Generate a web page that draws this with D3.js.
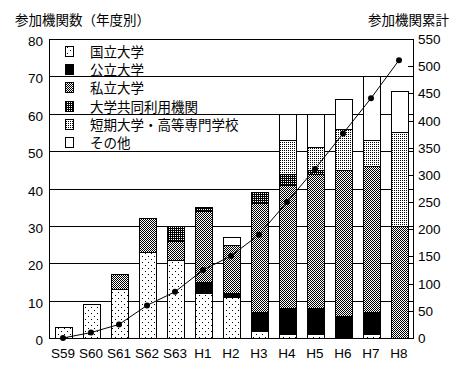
<!DOCTYPE html>
<html>
<head>
<meta charset="utf-8">
<script src="https://cdn.jsdelivr.net/npm/d3@7"></script>
<style>
  body { margin: 0; background: #fff; }
  text { font-family: "Liberation Sans", Arial, sans-serif; font-size: 13.5px; fill: #000; }
  .jp { font-family: "Noto Sans CJK JP", sans-serif; font-size: 13.5px; }
</style>
</head>
<body>
<div id="chart"></div>
<script>
var years = ["S59", "S60", "S61", "S62", "S63", "H1", "H2", "H3", "H4", "H5", "H6", "H7", "H8"];
var seriesNames = ["国立大学", "公立大学", "私立大学", "大学共同利用機関", "短期大学・高等専門学校", "その他"];
var national = [3, 9, 13, 23, 21, 12, 11, 2, 1, 1, 0, 1, 0];
var publicU = [0, 0, 0, 0, 0, 3, 1, 5, 7, 7, 6, 6, 0];
var privateU = [0, 0, 4, 9, 5, 19, 13, 29, 33, 36, 39, 39, 30];
var interUniv = [0, 0, 0, 0, 4, 1, 0, 3, 3, 1, 0, 0, 0];
var junior = [0, 0, 0, 0, 0, 0, 0, 0, 9, 6, 11, 7, 25];
var other = [0, 0, 0, 0, 0, 0, 2, 0, 7, 9, 8, 17, 11];
var cumulative = [0, 10, 25, 60, 85, 125, 151, 190, 250, 311, 376, 441, 511];
var leftTicks = [0, 10, 20, 30, 40, 50, 60, 70, 80];
var rightTicks = [0, 50, 100, 150, 200, 250, 300, 350, 400, 450, 500, 550];

var keys = ["national", "publicU", "privateU", "interUniv", "junior", "other"];
var rows = years.map(function (y, i) {
    return {
        year: y, national: national[i], publicU: publicU[i], privateU: privateU[i],
        interUniv: interUniv[i], junior: junior[i], other: other[i]
    };
});

var width = 467, height = 373;
var plotLeft = 49, plotRight = 413, plotTop = 39, plotBottom = 338;

var svg = d3.select("#chart").append("svg")
    .attr("width", width)
    .attr("height", height)
    .attr("shape-rendering", "crispEdges");

// fill patterns (monochrome, like the original)
var defs = svg.append("defs");
function pattern(id, size, cells) {
    var p = defs.append("pattern").attr("id", id)
        .attr("patternUnits", "userSpaceOnUse")
        .attr("width", size).attr("height", size);
    p.append("rect").attr("width", size).attr("height", size).attr("fill", "#fff");
    cells.forEach(function (c) {
        p.append("rect").attr("x", c[0]).attr("y", c[1]).attr("width", 1).attr("height", 1).attr("fill", "#000");
    });
}
pattern("p-national", 6, [[1, 1], [4, 4]]);
pattern("p-private", 2, [[0, 0], [1, 1]]);
pattern("p-inter", 2, [[0, 0], [1, 0], [0, 1]]);
pattern("p-junior", 2, [[0, 0]]);
var fills = {
    national: "url(#p-national)", publicU: "#000", privateU: "url(#p-private)",
    interUniv: "url(#p-inter)", junior: "url(#p-junior)", other: "#fff"
};

var x = d3.scaleBand().domain(years).range([plotLeft, plotRight]);
var yL = d3.scaleLinear().domain([0, 80]).range([plotBottom, plotTop]);
var yR = d3.scaleLinear().domain([0, 550]).range([plotBottom, plotTop]);
var barW = 17;
var off = (x.bandwidth() - barW) / 2;

// gridlines
svg.append("g").selectAll("line")
    .data(leftTicks)
    .enter().append("line")
    .attr("x1", plotLeft).attr("x2", plotRight)
    .attr("y1", function (d) { return Math.round(yL(d)) + 0.5; })
    .attr("y2", function (d) { return Math.round(yL(d)) + 0.5; })
    .attr("stroke", "#000");

// stacked bars
var stack = d3.stack().keys(keys)(rows);
svg.append("g").selectAll("g")
    .data(stack)
    .enter().append("g")
    .attr("fill", function (d) { return fills[d.key]; })
    .selectAll("rect")
    .data(function (d) { return d.filter(function (s) { return s[1] > s[0]; }); })
    .enter().append("rect")
    .attr("x", function (d) { return Math.round(x(d.data.year) + off) + 0.5; })
    .attr("y", function (d) { return Math.round(yL(d[1])) + 0.5; })
    .attr("width", barW)
    .attr("height", function (d) { return Math.round(yL(d[0])) - Math.round(yL(d[1])); })
    .attr("stroke", "#000");

// frame
svg.append("rect")
    .attr("x", plotLeft + 0.5).attr("y", Math.round(plotTop) + 0.5)
    .attr("width", plotRight - plotLeft).attr("height", Math.round(plotBottom) - Math.round(plotTop))
    .attr("fill", "none").attr("stroke", "#000");

// left axis labels
svg.append("g").selectAll("text")
    .data(leftTicks)
    .enter().append("text")
    .attr("x", 43)
    .attr("y", function (d) { return yL(d) + 7; })
    .attr("text-anchor", "end")
    .text(function (d) { return d; });

// right axis ticks + labels
svg.append("g").selectAll("line")
    .data(rightTicks)
    .enter().append("line")
    .attr("x1", plotRight - 5).attr("x2", plotRight)
    .attr("y1", function (d) { return Math.round(yR(d)) + 0.5; })
    .attr("y2", function (d) { return Math.round(yR(d)) + 0.5; })
    .attr("stroke", "#000");
svg.append("g").selectAll("text")
    .data(rightTicks)
    .enter().append("text")
    .attr("x", 418)
    .attr("y", function (d) { return yR(d) + 5; })
    .text(function (d) { return d; });

// x labels
svg.append("g").selectAll("text")
    .data(years)
    .enter().append("text")
    .attr("x", function (d) { return x(d) + x.bandwidth() / 2; })
    .attr("y", 358)
    .attr("text-anchor", "middle")
    .text(function (d) { return d; });

// cumulative line
var line = d3.line()
    .x(function (d, i) { return x(years[i]) + x.bandwidth() / 2; })
    .y(function (d) { return yR(d); });
svg.append("path")
    .datum(cumulative)
    .attr("d", line)
    .attr("fill", "none")
    .attr("stroke", "#000")
    .attr("stroke-width", 1)
    .attr("shape-rendering", "auto");
svg.append("g").selectAll("circle")
    .data(cumulative)
    .enter().append("circle")
    .attr("cx", function (d, i) { return x(years[i]) + x.bandwidth() / 2; })
    .attr("cy", function (d) { return yR(d); })
    .attr("r", 3)
    .attr("fill", "#000")
    .attr("shape-rendering", "auto");

// legend
var legend = svg.append("g").selectAll("g")
    .data(keys)
    .enter().append("g")
    .attr("transform", function (d, i) { return "translate(0," + Math.round(46 + i * 18.2) + ")"; });
legend.append("rect")
    .attr("x", 65.5).attr("y", 0.5)
    .attr("width", 8).attr("height", 10)
    .attr("fill", function (d) { return fills[d]; })
    .attr("stroke", "#000");
legend.append("text")
    .attr("class", "jp")
    .attr("x", 90).attr("y", 10.5)
    .text(function (d, i) { return seriesNames[i]; });

// titles
svg.append("text").attr("class", "jp").attr("x", 15).attr("y", 25).text("参加機関数（年度別）");
svg.append("text").attr("class", "jp").attr("x", 368).attr("y", 25).text("参加機関累計");
</script>
</body>
</html>
